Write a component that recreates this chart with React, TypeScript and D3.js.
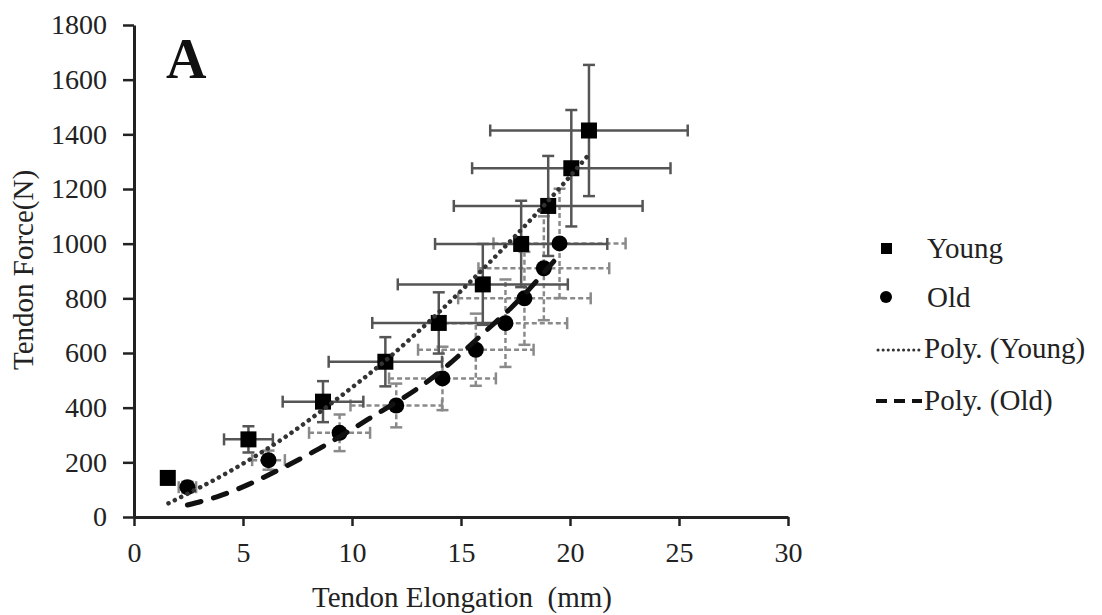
import * as d3 from "d3";
import { useEffect, useRef } from "react";

// young (squares)
const youngX = [1.55, 5.25, 8.67, 11.53, 13.98, 16.0, 17.76, 19.0, 20.06, 20.87];
const youngY = [143, 284, 422, 568, 710, 851, 999, 1138, 1276, 1414];
const youngXErr = [0, 1.12, 1.85, 2.6, 3.05, 3.9, 3.95, 4.33, 4.55, 4.53];
const youngYErr = [0, 48, 75, 90, 112, 148, 158, 183, 213, 240];

// old (circles)
const oldX = [2.45, 6.17, 9.43, 12.03, 14.15, 15.68, 17.04, 17.91, 18.8, 19.52];
const oldY = [109, 208, 308, 408, 507, 612, 709, 800, 910, 1001];
const oldXErr = [0.4, 0.75, 1.4, 2.1, 2.45, 2.65, 2.83, 3.04, 3.0, 3.03];
const oldYErr = [20, 35, 67, 80, 116, 132, 160, 170, 190, 200];

// Poly. trendlines
const youngTrendX = [1.58, 4.5, 7, 9.2, 11.5, 14, 15.43, 16.8, 18.19, 19.6, 20.8];
const youngTrendY = [50, 172, 296, 425, 570, 750, 861, 971, 1087, 1210, 1320];
const oldTrendX = [2.45, 3.8, 5.02, 6.78, 8.24, 10.69, 13.75, 16.35, 17.27, 19.52];
const oldTrendY = [44, 74, 111, 178, 239, 355, 513, 696, 763, 960];

const xTicks = [0, 5, 10, 15, 20, 25, 30];
const yTicks = [0, 200, 400, 600, 800, 1000, 1200, 1400, 1600, 1800];

const FONT = "'Liberation Serif', 'Times New Roman', serif";

const App = () => {
    const ref = useRef(null);

    useEffect(() => {
        const svg = d3.select(ref.current);
        svg.selectAll("*").remove();

        const x = d3.scaleLinear().domain([0, 30]).range([134, 788]);
        const y = d3.scaleLinear().domain([0, 1800]).range([517, 25]);

        // axes
        const yAxis = svg.append("g").attr("transform", "translate(134,0)")
            .call(d3.axisLeft(y).tickValues(yTicks).tickFormat(d3.format("d")).tickSize(11).tickSizeOuter(0).tickPadding(16));
        const xAxis = svg.append("g").attr("transform", "translate(0,517)")
            .call(d3.axisBottom(x).tickValues(xTicks).tickFormat(d3.format("d")).tickSize(9).tickSizeOuter(0).tickPadding(16));
        [yAxis, xAxis].forEach(a => {
            a.select(".domain").attr("stroke", "#222").attr("stroke-width", 3);
            a.selectAll(".tick line").attr("stroke", "#222").attr("stroke-width", 2.5);
            a.selectAll(".tick text").attr("fill", "#222").attr("font-family", FONT).attr("font-size", 28);
        });

        // error bars
        const errBars = (xs, ys, xe, ye, color, dash) => {
            const g = svg.append("g").attr("stroke", color).attr("stroke-width", 2.5).attr("fill", "none");
            xs.forEach((xv, i) => {
                const cx = x(xv), cy = y(ys[i]);
                if (xe[i] > 0) {
                    const x0 = x(xv - xe[i]), x1 = x(xv + xe[i]);
                    g.append("line").attr("x1", x0).attr("x2", x1).attr("y1", cy).attr("y2", cy).attr("stroke-dasharray", dash);
                    g.append("line").attr("x1", x0).attr("x2", x0).attr("y1", cy - 6).attr("y2", cy + 6);
                    g.append("line").attr("x1", x1).attr("x2", x1).attr("y1", cy - 6).attr("y2", cy + 6);
                }
                if (ye[i] > 0) {
                    const y0 = y(ys[i] - ye[i]), y1 = y(ys[i] + ye[i]);
                    g.append("line").attr("x1", cx).attr("x2", cx).attr("y1", y0).attr("y2", y1).attr("stroke-dasharray", dash);
                    g.append("line").attr("x1", cx - 6).attr("x2", cx + 6).attr("y1", y0).attr("y2", y0);
                    g.append("line").attr("x1", cx - 6).attr("x2", cx + 6).attr("y1", y1).attr("y2", y1);
                }
            });
        };
        errBars(oldX, oldY, oldXErr, oldYErr, "#8a8a8a", "5 3");
        errBars(youngX, youngY, youngXErr, youngYErr, "#555", null);

        // markers
        svg.append("g").selectAll("rect").data(youngX).enter().append("rect")
            .attr("x", (d) => x(d) - 8).attr("y", (d, i) => y(youngY[i]) - 8)
            .attr("width", 16).attr("height", 16).attr("fill", "#000");
        svg.append("g").selectAll("circle").data(oldX).enter().append("circle")
            .attr("cx", (d) => x(d)).attr("cy", (d, i) => y(oldY[i]))
            .attr("r", 8).attr("fill", "#000");

        // trendlines
        const trend = (xs, ys, dash, width, color) => {
            const line = d3.line().x(d => x(d)).y((d, i) => y(ys[i])).curve(d3.curveMonotoneX);
            svg.append("path").datum(xs).attr("d", line).attr("fill", "none")
                .attr("stroke", color).attr("stroke-width", width)
                .attr("stroke-dasharray", dash).attr("stroke-linecap", "round");
        };
        trend(youngTrendX, youngTrendY, "0.1 7", 4.5, "#333");
        trend(oldTrendX, oldTrendY, "14 13", 5, "#111");

        // panel letter
        svg.append("text").attr("x", 166).attr("y", 78).attr("font-family", FONT)
            .attr("font-weight", "bold").attr("font-size", 56).attr("fill", "#111").text("A");

        // axis labels
        svg.append("text").attr("x", 462).attr("y", 607).attr("text-anchor", "middle")
            .attr("font-family", FONT).attr("font-size", 29).attr("fill", "#222")
            .style("white-space", "pre").text("Tendon Elongation  (mm)");
        svg.append("text").attr("transform", "translate(33,270) rotate(-90)").attr("text-anchor", "middle")
            .attr("font-family", FONT).attr("font-size", 29).attr("fill", "#222").text("Tendon Force(N)");

        // legend
        const lg = svg.append("g").attr("font-family", FONT).attr("font-size", 29).attr("fill", "#222");
        lg.append("rect").attr("x", 881).attr("y", 243).attr("width", 11).attr("height", 11).attr("fill", "#000");
        lg.append("text").attr("x", 927).attr("y", 258).text("Young");
        lg.append("circle").attr("cx", 886).attr("cy", 297).attr("r", 6).attr("fill", "#000");
        lg.append("text").attr("x", 927).attr("y", 307).text("Old");
        lg.append("line").attr("x1", 878).attr("x2", 922).attr("y1", 350).attr("y2", 350)
            .attr("stroke", "#333").attr("stroke-width", 3).attr("stroke-dasharray", "0.1 5").attr("stroke-linecap", "round");
        lg.append("text").attr("x", 924).attr("y", 358).text("Poly. (Young)");
        lg.append("line").attr("x1", 876).attr("x2", 922).attr("y1", 401).attr("y2", 401)
            .attr("stroke", "#111").attr("stroke-width", 4).attr("stroke-dasharray", "11 7");
        lg.append("text").attr("x", 924).attr("y", 410).text("Poly. (Old)");
    });

    return (
        <svg ref={ref} width="1102" height="615" style={{ position: "absolute", left: 0, top: 0, background: "#fff" }} />
    );
};

export default App;
